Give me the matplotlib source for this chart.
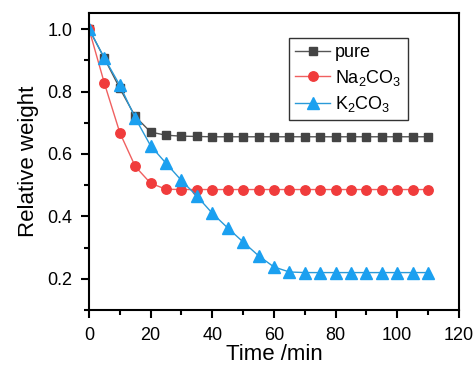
import matplotlib
matplotlib.use("Agg")
import matplotlib.pyplot as plt
from matplotlib.ticker import MultipleLocator

plt.rcParams['font.family'] = ['Liberation Sans', 'DejaVu Sans']
plt.rcParams['mathtext.fontset'] = 'custom'
plt.rcParams['mathtext.rm'] = 'Liberation Sans'

time = [0, 5, 10, 15, 20, 25, 30, 35, 40, 45, 50, 55, 60, 65, 70, 75, 80, 85, 90, 95, 100, 105, 110]
pure = [1.0, 0.906, 0.81, 0.72, 0.67, 0.66, 0.657, 0.656, 0.655, 0.655, 0.655, 0.655, 0.655,
        0.655, 0.655, 0.655, 0.655, 0.655, 0.655, 0.655, 0.655, 0.655, 0.655]
na2co3 = [1.0, 0.826, 0.668, 0.56, 0.506, 0.487, 0.486, 0.486, 0.486, 0.486, 0.486, 0.486, 0.486,
          0.486, 0.486, 0.486, 0.486, 0.486, 0.486, 0.486, 0.486, 0.486, 0.486]
k2co3 = [1.0, 0.907, 0.82, 0.715, 0.626, 0.57, 0.515, 0.465, 0.41, 0.363, 0.318, 0.274, 0.238,
         0.222, 0.22, 0.22, 0.22, 0.22, 0.22, 0.22, 0.22, 0.22, 0.22]

fig = plt.figure(figsize=(4.76, 3.74), dpi=100)
ax = fig.add_axes([0.187, 0.171, 0.777, 0.793])

ax.plot(time, pure, color='#555555', lw=1.0, marker='s', ms=5.6, mfc='#444444', mec='#444444',
        label='pure')
ax.plot(time, na2co3, color='#f06060', lw=1.0, marker='o', ms=6.8, mfc='#f03c3c', mec='#f03c3c',
        label='Na$_2$CO$_3$')
ax.plot(time, k2co3, color='#2a9ad8', lw=1.0, marker='^', ms=8, mfc='#1ba0f0', mec='#1ba0f0',
        label='K$_2$CO$_3$')

ax.set_xlim(0, 120)
ax.set_ylim(0.1, 1.05)
ax.xaxis.set_major_locator(MultipleLocator(20))
ax.xaxis.set_minor_locator(MultipleLocator(10))
ax.yaxis.set_major_locator(MultipleLocator(0.2))
ax.yaxis.set_minor_locator(MultipleLocator(0.1))
ax.set_yticks([0.2, 0.4, 0.6, 0.8, 1.0])
ax.tick_params(which='major', direction='out', length=6, width=1.5, labelsize=13, pad=6)
ax.tick_params(which='minor', direction='out', length=3.5, width=1.5)
for s in ax.spines.values():
    s.set_linewidth(1.5)

ax.set_xlabel('Time /min', fontsize=16, labelpad=0)
ax.set_ylabel('Relative weight', fontsize=16, labelpad=6)

leg = ax.legend(loc='upper right', bbox_to_anchor=(0.862, 0.917), fontsize=13, frameon=True,
                fancybox=False, edgecolor='black', handlelength=1.9, handletextpad=0.3,
                borderpad=0.35, labelspacing=0.35, borderaxespad=0)
leg.get_frame().set_linewidth(1.0)

fig.savefig('out.png', dpi=100)
